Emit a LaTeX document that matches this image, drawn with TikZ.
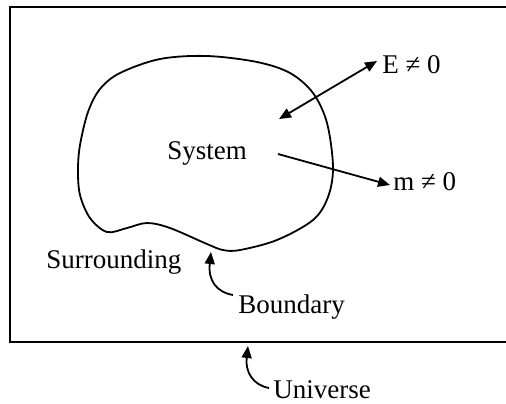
\documentclass[tikz,border=0pt]{standalone}
\usepackage{fontspec}
\setmainfont{Liberation Serif}
\usetikzlibrary{arrows.meta}
\begin{document}
\begin{tikzpicture}[x=0.5pt,y=-0.5pt,
  lbl/.style={anchor=base west,inner sep=0pt,font=\fontsize{13.5}{16}\selectfont},
  line/.style={line width=0.9pt},
  tip/.style={-{Triangle[length=6pt,width=5pt]}},
  dtip/.style={{Triangle[length=6pt,width=5pt]}-{Triangle[length=6pt,width=5pt]}}]
\useasboundingbox (0,0) rectangle (506,403);
% universe box (open to the right)
\draw[line] (512,7) -- (10,7) -- (10,342) -- (512,342);
% system boundary
\draw[line] plot[smooth cycle,tension=0.55] coordinates {
  (207,56) (257,62) (290,73) (313,93) (327,123) (333,167) (328,197)
  (313,220) (277,240) (240,250) (223,250) (207,244) (170,228) (147,223)
  (127,228) (107,232) (90,218) (80,195) (78,170) (80,145) (88,112)
  (100,89) (120,73) (160,59)};
% labels
\node[lbl] (sys) at (167,159) {System};
\node[lbl] (E) at (382,73) {E ≠ 0};
\node[lbl] (m) at (393,190) {m ≠ 0};
\node[lbl] (sur) at (46,268) {Surrounding};
\node[lbl] (bnd) at (238,313) {Boundary};
\node[lbl] (uni) at (273,398) {Universe};
% connectors
\coordinate (ein) at (279,119);
\coordinate (eout) at (377,61);
\coordinate (min) at (278,154);
\coordinate (mout) at (390,185);
\coordinate (bs) at (233,295);
\coordinate (bt) at (211,252);
\coordinate (us) at (269,388);
\coordinate (ut) at (248,346);
\draw[line,dtip] (ein) -- (eout);
\draw[line,tip] (min) -- (mout);
\draw[line,tip] (bs) .. controls (216,292) and (208,280) .. (bt);
\draw[line,tip] (us) .. controls (253,385) and (245,372) .. (ut);
\end{tikzpicture}
\end{document}
